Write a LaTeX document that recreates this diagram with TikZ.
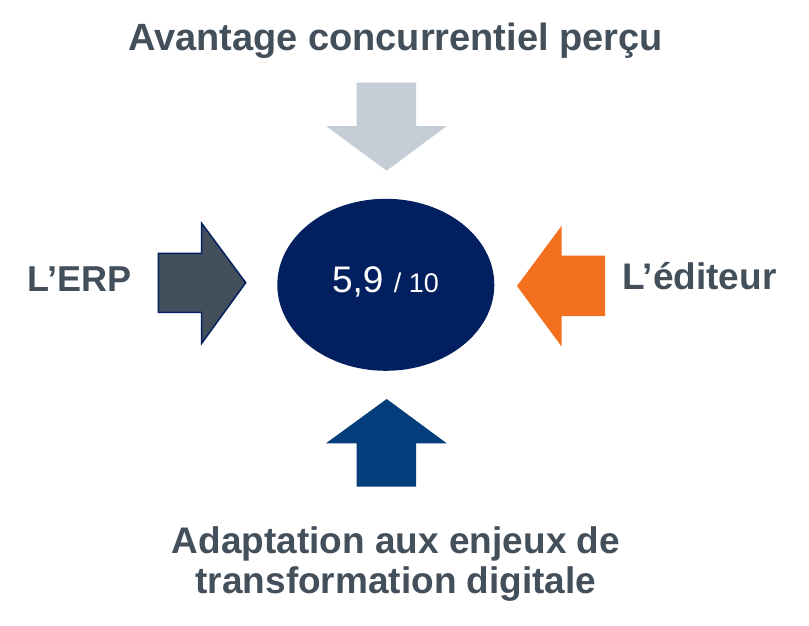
\documentclass[tikz,border=0pt]{standalone}
\usepackage{fontspec}
\setmainfont{Liberation Sans}
\usetikzlibrary{shapes.geometric}
\definecolor{txtgray}{HTML}{43505C}
\definecolor{slate}{HTML}{43505C}
\definecolor{navy}{HTML}{022060}
\definecolor{lightgb}{HTML}{C5CED6}
\definecolor{midblue}{HTML}{033D7C}
\definecolor{orangex}{HTML}{F3701F}
\tikzset{
  lbl/.style={text=txtgray, font=\fontsize{38}{40}\selectfont\bfseries, inner sep=0pt},
}
\begin{document}
\begin{tikzpicture}[x=1pt,y=-1pt]
\useasboundingbox (0,0) rectangle (809,626);
\fill[white] (0,0) rectangle (809,626);
% ellipse
\node[ellipse, fill=navy, minimum width=217pt, minimum height=172pt, inner sep=0pt] (score) at (385.8,284.8) {};
\node[anchor=base, text=white, inner sep=0pt, font=\fontsize{37}{40}\selectfont] (scoretxt) at (385.5,292.7) {5,9 {\fontsize{27}{30}\selectfont/ 10}};
% arrows
\fill[lightgb] (356.7,82.7) -- (416,82.7) -- (416,126) -- (446.7,126) -- (386.7,170.7) -- (326,126) -- (356.7,126) -- cycle;
\fill[midblue] (356.7,486.7) -- (416,486.7) -- (416,443.3) -- (446.7,443.3) -- (386.7,399) -- (326,443.3) -- (356.7,443.3) -- cycle;
\filldraw[fill=slate, draw=navy, line width=1.5pt, line join=miter] (158.3,253.3) -- (201.7,253.3) -- (201.7,223.3) -- (245.7,282.7) -- (201.7,343.3) -- (201.7,312.3) -- (158.3,312.3) -- cycle;
\fill[orangex] (605,255.7) -- (561.7,255.7) -- (561.7,225.7) -- (517,286) -- (561.7,346.7) -- (561.7,316) -- (605,316) -- cycle;
% labels
\node[lbl, anchor=base] (top) at (395.5,50.7) {Avantage concurrentiel perçu};
\node[lbl, anchor=base west, font=\fontsize{36}{40}\selectfont\bfseries] (erp) at (27,291) {L’ERP};
\node[lbl, anchor=base west, font=\fontsize{37}{40}\selectfont\bfseries] (editeur) at (622,289) {L’éditeur};
\node[lbl, anchor=base, font=\fontsize{37}{40}\selectfont\bfseries] (bot1) at (396,553) {Adaptation aux enjeux de};
\node[lbl, anchor=base, font=\fontsize{37}{40}\selectfont\bfseries] (bot2) at (396,593) {transformation digitale};
\end{tikzpicture}
\end{document}
